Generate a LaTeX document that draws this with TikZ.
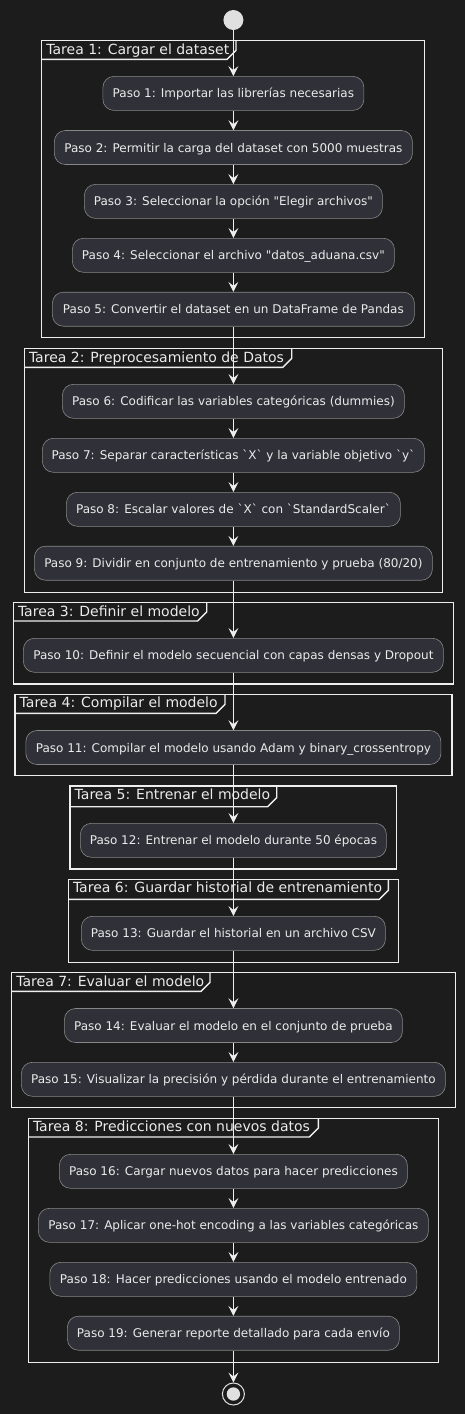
\documentclass[tikz,border=0pt]{standalone}
\usepackage{fontspec}
\setmainfont{DejaVu Sans}
\usetikzlibrary{arrows.meta}
\newcommand{\grv}{\textasciigrave}
\newcommand{\qt}{\textquotedbl}

\begin{document}
\begin{tikzpicture}[x=1pt,y=-1pt,
    paso/.style={draw=borde, fill=caja, rounded corners=11pt, line width=0.6pt,
      minimum height=34pt, inner xsep=0pt, inner ysep=0pt, text height=9pt,
      text depth=0pt, text=texto, font=\fontsize{12}{14}\selectfont},
    flecha/.style={draw=linea, line width=1pt, -{Stealth[length=10pt,width=10pt,inset=4pt]}},
    marco/.style={draw=linea, line width=1.4pt}]
  \definecolor{fondo}{RGB}{28,28,28}
  \definecolor{caja}{RGB}{48,48,56}
  \definecolor{borde}{RGB}{135,135,135}
  \definecolor{texto}{RGB}{235,235,235}
  \definecolor{linea}{RGB}{238,238,238}
  \definecolor{inicio}{RGB}{224,224,224}

  \fill[fondo] (0,0) rectangle (465,1414);
  \useasboundingbox (0,0) rectangle (465,1414);

  \foreach \l/\t/\r/\b/\tb/\tr/\nombre in {
      41.7/40.7/424.3/337.3/59.3/236/{Tarea 1: Cargar el dataset},
      24.3/348.7/442.7/592.3/367.3/291.7/{Tarea 2: Preprocesamiento de Datos},
      13.3/602.7/453.3/684/621/206.7/{Tarea 3: Definir el modelo},
      15/694.3/452/775.7/713.3/225/{Tarea 4: Compilar el modelo},
      70/786/396.3/869/806.7/276.7/{Tarea 5: Entrenar el modelo},
      68.3/879.3/398.7/962.3/899.3/388.3/{Tarea 6: Guardar historial de entrenamiento},
      11.7/972.7/455.3/1107.7/991.3/210/{Tarea 7: Evaluar el modelo},
      28.3/1118.3/438.7/1362.3/1137/318.3/{Tarea 8: Predicciones con nuevos datos}}
  {
    \draw[marco] (\l,\t) rectangle (\r,\b);
    \draw[marco] (\l,\tb) -- (\tr-9,\tb) -- (\tr,\tb-9) -- (\tr,\t);
    \node[anchor=base west, inner sep=0pt, text=texto, font=\fontsize{14}{16}\selectfont]
      at (\l+4.5,\t+13.5) {\nombre};
  }

  \node[circle, fill=inicio, minimum size=20pt, inner sep=0pt] (ini) at (233.4,20) {};

  \node[paso, minimum width=261pt] (p1) at (233.4,93.4) {Paso 1: Importar las librerías necesarias};
  \node[paso, minimum width=358pt] (p2) at (233.4,147.5) {Paso 2: Permitir la carga del dataset con 5000 muestras};
  \node[paso, minimum width=298pt] (p3) at (233.4,201.4) {Paso 3: Seleccionar la opción \qt Elegir archivos\qt};
  \node[paso, minimum width=322pt] (p4) at (233.4,255.3) {Paso 4: Seleccionar el archivo \qt datos\_aduana.csv\qt};
  \node[paso, minimum width=362pt] (p5) at (233.4,309.2) {Paso 5: Convertir el dataset en un DataFrame de Pandas};

  \node[paso, minimum width=342pt] (p6) at (233.4,401.3) {Paso 6: Codificar las variables categóricas (dummies)};
  \node[paso, minimum width=382pt] (p7) at (233.4,455.3) {Paso 7: Separar características \grv X\grv{} y la variable objetivo \grv y\grv};
  \node[paso, minimum width=334pt] (p8) at (233.4,509.3) {Paso 8: Escalar valores de \grv X\grv{} con \grv StandardScaler\grv};
  \node[paso, minimum width=398pt] (p9) at (233.4,563.2) {Paso 9: Dividir en conjunto de entrenamiento y prueba (80/20)};

  \node[paso, minimum width=420pt] (p10) at (233.4,655.3) {Paso 10: Definir el modelo secuencial con capas densas y Dropout};
  \node[paso, minimum width=415pt] (p11) at (233.4,747.5) {Paso 11: Compilar el modelo usando Adam y binary\_crossentropy};
  \node[paso, minimum width=306pt] (p12) at (233.4,840.3) {Paso 12: Entrenar el modelo durante 50 épocas};
  \node[paso, minimum width=304pt] (p13) at (233.4,933.3) {Paso 13: Guardar el historial en un archivo CSV};

  \node[paso, minimum width=338pt] (p14) at (233.4,1025.5) {Paso 14: Evaluar el modelo en el conjunto de prueba};
  \node[paso, minimum width=424pt] (p15) at (233.4,1079.3) {Paso 15: Visualizar la precisión y pérdida durante el entrenamiento};

  \node[paso, minimum width=348pt] (p16) at (233.4,1171.3) {Paso 16: Cargar nuevos datos para hacer predicciones};
  \node[paso, minimum width=390pt] (p17) at (233.4,1225.3) {Paso 17: Aplicar one-hot encoding a las variables categóricas};
  \node[paso, minimum width=367pt] (p18) at (233.4,1279.3) {Paso 18: Hacer predicciones usando el modelo entrenado};
  \node[paso, minimum width=332pt] (p19) at (233.4,1333.2) {Paso 19: Generar reporte detallado para cada envío};

  \node[circle, draw=inicio, line width=1pt, minimum size=22pt, inner sep=0pt] (fin) at (233.4,1394) {};
  \fill[inicio] (fin) circle (6.7pt);

  \foreach \a/\b in {ini/p1, p1/p2, p2/p3, p3/p4, p4/p5, p5/p6, p6/p7, p7/p8, p8/p9, p9/p10,
      p10/p11, p11/p12, p12/p13, p13/p14, p14/p15, p15/p16, p16/p17, p17/p18, p18/p19, p19/fin}
    \draw[flecha] (\a) -- (\b);
\end{tikzpicture}
\end{document}
